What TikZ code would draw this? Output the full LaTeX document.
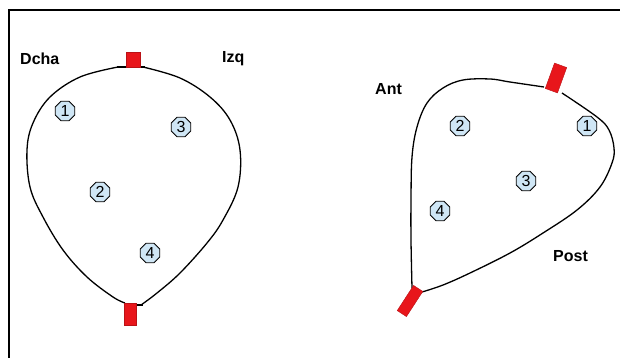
\documentclass[tikz,border=0pt]{standalone}
\usepackage{fontspec}
\setmainfont{Liberation Sans}
\usetikzlibrary{shapes.geometric}
\definecolor{numfill}{HTML}{CFE6F5}
\definecolor{tagred}{HTML}{E8161B}
\tikzset{
  num/.style={regular polygon, regular polygon sides=8, draw=black, line width=0.8pt,
    fill=numfill, minimum size=21pt, inner sep=0pt, font=\fontsize{16}{16}\selectfont},
  lbl/.style={font=\fontsize{16}{16}\selectfont\bfseries, inner sep=0pt},
  outline/.style={line width=1.3pt, black},
  tag/.style={fill=tagred, draw=tagred!80!black, line width=0.4pt}
}
\begin{document}
\begin{tikzpicture}[x=1pt,y=-1pt]
\useasboundingbox (0,0) rectangle (620,357);
% frame
\draw[line width=2.5pt] (9,400) -- (9,10) -- (640,10);
% left balloon
\draw[outline] plot[smooth, tension=0.6] coordinates {(118,67) (80,77) (50,97) (33,123) (27,150) (30,187) (43,217) (63,250) (87,277) (113,297) (125,303)};
\draw[outline] plot[smooth, tension=0.6] coordinates {(143,67) (180,78) (210,97) (230,120) (240,150) (238,187) (223,220) (207,243) (180,273) (157,293) (141,305)};
\draw[outline] (117,67) -- (145,67);
\draw[outline] (137,305) -- (143,305);
\filldraw[tag] (126,52) rectangle (140,67);
\filldraw[tag] (124,303) rectangle (136,325);
% right balloon
\draw[outline] plot[smooth, tension=0.6] coordinates {(544,87) (510,82) (490,79) (463,80) (443,88) (427,103) (417,127) (412,157) (411,200) (411,240) (412,288)};
\draw[outline] plot[smooth, tension=0.6] coordinates {(422,292) (443,285) (470,273) (510,253) (543,233) (577,210) (600,187) (612,163) (614,148) (609,130) (597,117) (562,93)};
\filldraw[tag, rotate around={70:(556,78)}] (542.5,71.5) rectangle (569.5,84.5);
\filldraw[tag, rotate around={57:(410,301)}] (395,295.5) rectangle (425,306.5);
% labels
\node[lbl, anchor=west] (dcha) at (20,59) {Dcha};
\node[lbl, anchor=west] (izq) at (222,59) {Izq};
\node[lbl, anchor=west] (ant) at (375,89) {Ant};
\node[lbl, anchor=west] (post) at (553,256) {Post};
% numbers left
\node[num] (l1) at (65,111) {1};
\node[num] (l3) at (181,127) {3};
\node[num] (l2) at (100,192) {2};
\node[num] (l4) at (150,253) {4};
% numbers right
\node[num] (r2) at (460,126) {2};
\node[num] (r1) at (587,126) {1};
\node[num] (r3) at (526,181) {3};
\node[num] (r4) at (440,211) {4};
\end{tikzpicture}
\end{document}
